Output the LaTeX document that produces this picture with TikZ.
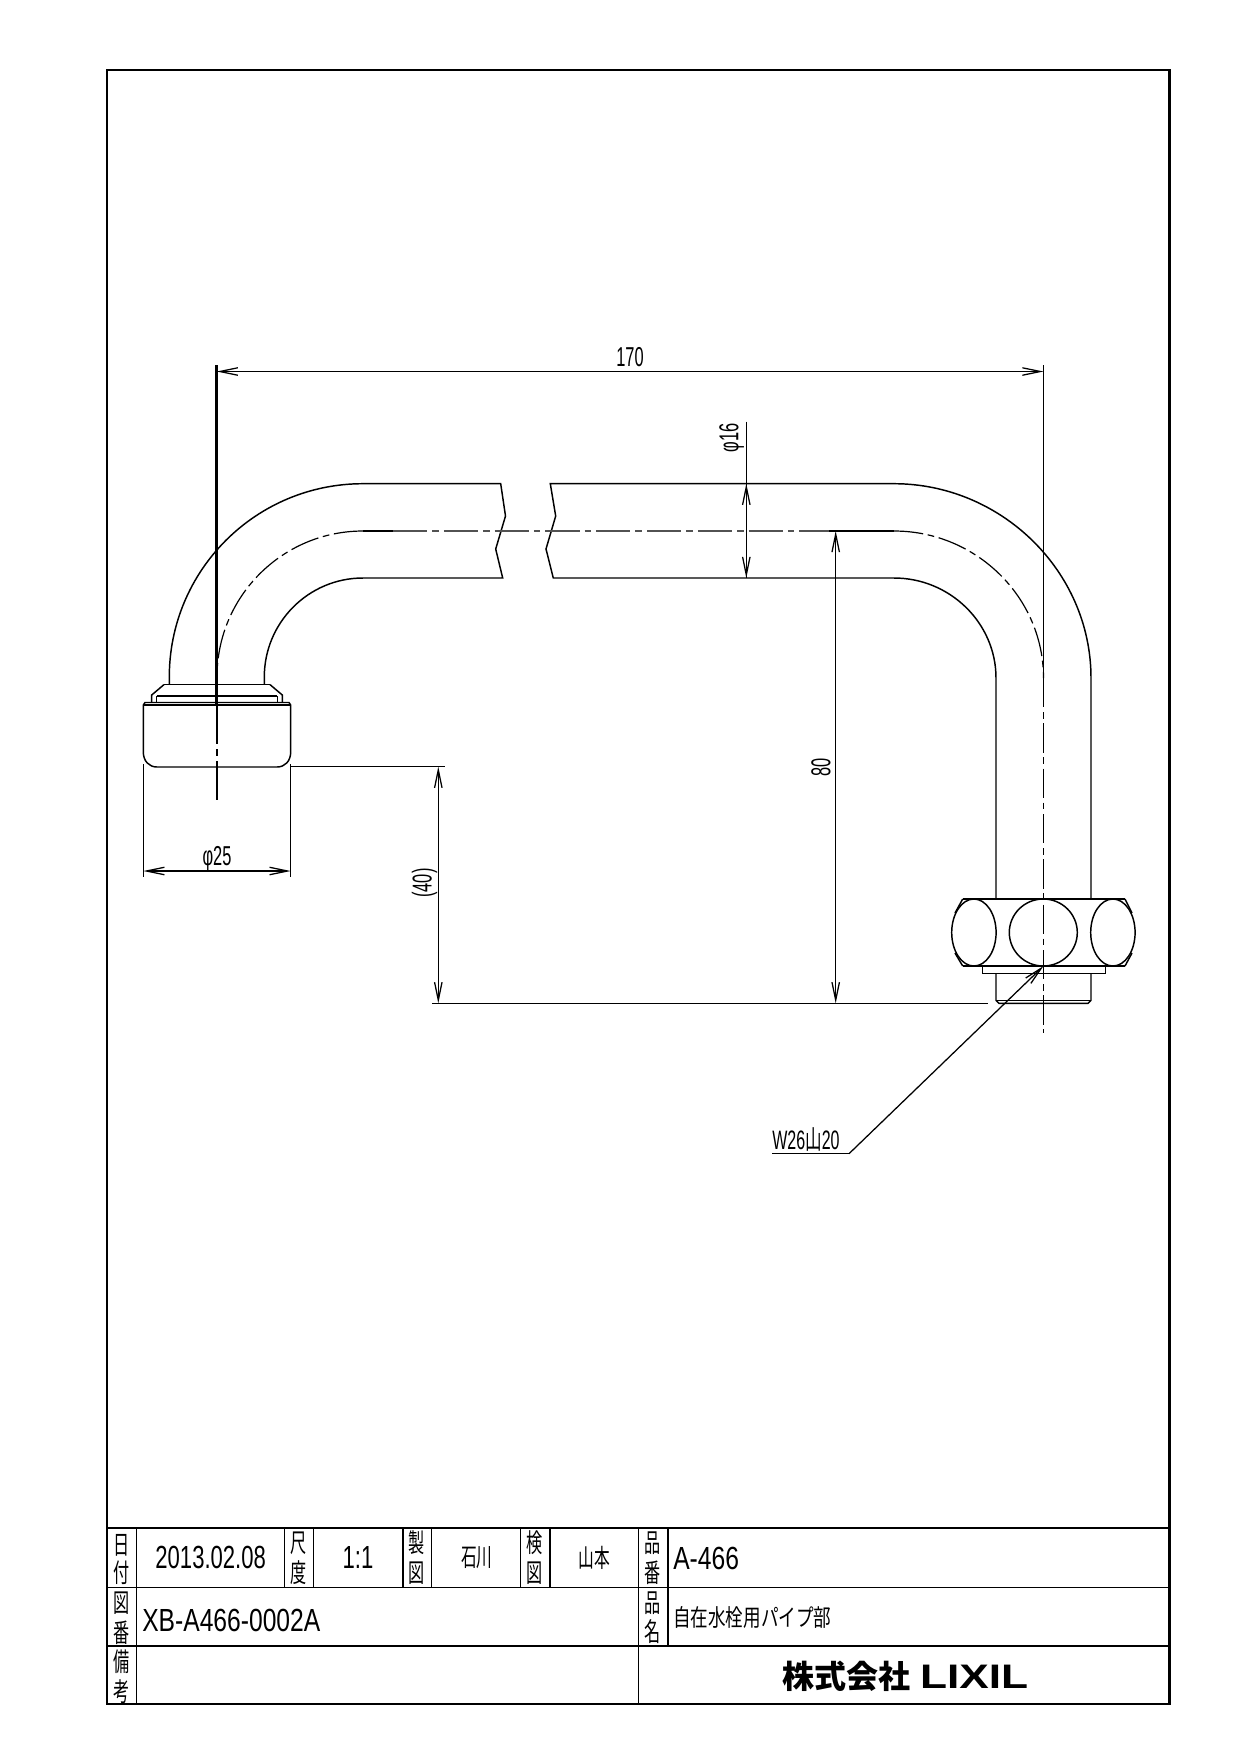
\documentclass[tikz,border=0pt]{standalone}
\usepackage{fontspec}
\usetikzlibrary{arrows.meta,calc}
\newfontfamily\cadA[FakeStretch=0.6]{Liberation Sans}
\newfontfamily\cadB[FakeStretch=0.69]{Liberation Sans}
\newfontfamily\cadC[FakeStretch=0.77]{Liberation Sans}
\newfontfamily\jpN[FakeStretch=0.62]{Noto Sans CJK JP}
\newfontfamily\jpT[FakeStretch=0.74]{Noto Sans CJK JP}
\newfontfamily\jpB{Noto Sans CJK JP}
\newfontfamily\lixil[FakeStretch=1.3]{Liberation Sans}
\newcommand{\fs}[1]{\fontsize{#1}{#1}\selectfont}
\tikzset{
  obj/.style={line width=1.1pt,black},
  thin line/.style={line width=0.95pt,black},
  frameline/.style={line width=2pt,black},
  cellline/.style={line width=1pt,black},
  dimline/.style={line width=0.95pt,black,
    <->,>={Straight Barb[length=13.5pt,width=5.6pt]}},
  tipline/.style={line width=0.95pt,black,
    ->,>={Straight Barb[length=13.5pt,width=5.6pt]}},
  chain/.style={line width=0.9pt,black,dash pattern=on 22pt off 3.5pt on 5pt off 3.5pt},
  graychain/.style={line width=1.4pt,black!68,dash pattern=on 25.7pt off 3.7pt on 5pt off 3.7pt},
  dimtext/.style={inner sep=0pt,font=\cadA\fs{20.5}},
  cjkcell/.style={inner sep=0pt,font=\jpN\fs{19.5}},
}
\begin{document}
\begin{tikzpicture}[x=0.75pt,y=-0.75pt]
\useasboundingbox (0,0) rectangle (1240,1754);
% key points
\coordinate (dimL) at (216.7,371.5);
\coordinate (dimR) at (1043.5,371.5);
\coordinate (d25L) at (143.3,871);
\coordinate (d25R) at (290.7,871);
\coordinate (d40T) at (438.3,766.7);
\coordinate (d40B) at (438.3,1003.3);
\coordinate (d80T) at (835.7,531);
\coordinate (d80B) at (835.7,1003.3);
\coordinate (d16T) at (746.3,483.7);
\coordinate (d16B) at (746.3,578);
\coordinate (d16E) at (746.3,421.7);
\coordinate (ldA) at (1043.5,966);
\coordinate (ldB) at (849,1153.7);
\coordinate (ldC) at (772,1153.7);
% frame
\draw[frameline] (107,70) rectangle (1169.8,1704);
\draw[frameline] (107,1528) -- (1169.8,1528);
\draw[cellline] (107,1587.3) -- (1169.8,1587.3);
\draw[cellline] (107,1646) -- (1169.8,1646);
\draw[cellline] (136.8,1528) -- (136.8,1704);
\draw[cellline] (638.3,1528) -- (638.3,1704);
\draw[cellline] (284.6,1528) -- (284.6,1587.3);
\draw[cellline] (313.6,1528) -- (313.6,1587.3);
\draw[cellline] (402.9,1528) -- (402.9,1587.3);
\draw[cellline] (431.4,1528) -- (431.4,1587.3);
\draw[cellline] (520.7,1528) -- (520.7,1587.3);
\draw[line width=1.5pt] (550,1528) -- (550,1587.3);
\draw[line width=1.5pt] (667.6,1528) -- (667.6,1646);
% title labels
\node[cjkcell] (t1) at (122,1545) {日};
\node[cjkcell] (t2) at (122,1573) {付};
\node[cjkcell] (t3) at (299,1543) {尺};
\node[cjkcell] (t4) at (299,1573) {度};
\node[cjkcell] (t5) at (417,1543) {製};
\node[cjkcell] (t6) at (417,1573) {図};
\node[cjkcell] (t7) at (535,1543) {検};
\node[cjkcell] (t8) at (535,1573) {図};
\node[cjkcell] (t9) at (653,1543) {品};
\node[cjkcell] (t10) at (653,1573) {番};
\node[cjkcell] (t11) at (122,1603) {図};
\node[cjkcell] (t12) at (122,1633) {番};
\node[cjkcell] (t13) at (653,1603) {品};
\node[cjkcell] (t14) at (653,1632) {名};
\node[cjkcell] (t15) at (122,1662) {備};
\node[cjkcell] (t16) at (122,1692) {考};
\node[inner sep=0pt,font=\cadB\fs{24}] (date) at (210.7,1557.5) {2013.02.08};
\node[inner sep=0pt,font=\cadB\fs{24}] (scale) at (358,1557.5) {1:1};
\node[inner sep=0pt,font=\jpN\fs{19}] (mk) at (476.8,1558) {石川};
\node[inner sep=0pt,font=\jpN\fs{19}] (ck) at (594.6,1558) {山本};
\node[inner sep=0pt,anchor=west,font=\cadC\fs{24}] (code) at (142,1620) {XB-A466-0002A};
\node[inner sep=0pt,anchor=west,font=\cadC\fs{24}] (part) at (673,1558) {A-466};
\node[inner sep=0pt,anchor=west,font=\jpT\fs{17.8}] (name) at (673,1617) {自在水栓用パイプ部};
\node[inner sep=0pt,font=\fs{24}] (co) at (905.5,1676) {{\jpB\bfseries 株式会社}\hspace{7pt}{\lixil\bfseries\fs{25.5}LIXIL}};
% pipe left part
\draw[obj] (169.3,684.6) -- (169.3,677) .. controls (169.3,570) and (256,483.7) .. (363,483.7) -- (500.7,483.7) -- (505.5,516) -- (495.7,549) -- (502.7,578) -- (363,578) .. controls (308.5,578) and (264.3,622.5) .. (264.3,677) -- (264.3,684.6);
% pipe right part
\draw[obj] (996,899) -- (996,678) .. controls (996,623) and (950,578) .. (894,578) -- (553.3,578) -- (546,549) -- (555.7,516) -- (550.3,483.7) -- (894,483.7) .. controls (1001,483.7) and (1091,571) .. (1091,678) -- (1091,899);
% centre lines
\draw[line width=1.4pt] (363,531) -- (393,531);
\draw[line width=1.4pt] (829,531) -- (894,531);
\draw[graychain] (393,531) -- (829,531);
\draw[chain] (363,531) .. controls (282.4,531) and (217,596.4) .. (217,677);
\draw[chain] (894,531) .. controls (976,531) and (1043.5,597) .. (1043.5,678);
\draw[line width=1.9pt] (216.7,365) -- (216.7,705);
\draw[line width=1.5pt,dash pattern=on 29pt off 4pt on 5pt off 4pt] (216.7,705) -- (216.7,800);
\draw[thin line] (1043.5,365) -- (1043.5,678);
\draw[chain] (1043.5,678) -- (1043.5,1032.7);
% left nut and collar
\draw[obj] (164,684.6) -- (270,684.6);
\draw[obj] (164,684.6) -- (151.7,695) -- (151.7,702.5);
\draw[obj] (270,684.6) -- (282.3,695) -- (282.3,702.5);
\draw[obj] (156.7,696) -- (277.3,696);
\draw[obj] (156.7,696) -- (156.7,702.5);
\draw[obj] (277.3,696) -- (277.3,702.5);
\draw[obj] (143.3,705) -- (145,702.5) -- (289,702.5) -- (290.7,705) -- (290.7,752) .. controls (290.7,761) and (285,767) .. (277,767) -- (157,767) .. controls (149,767) and (143.3,761) .. (143.3,752) -- cycle;
\draw[obj] (143.3,705) -- (290.7,705);
% right hex nut
\draw[obj] (962.7,899) -- (1125,899);
\draw[obj] (962.7,966) -- (1125,966);
\draw[obj] (962.7,899) -- (955,913);
\draw[obj] (955,953) -- (962.7,966);
\draw[obj] (1125,899) -- (1132,913);
\draw[obj] (1132,953) -- (1125,966);
\draw[obj] (973.9,932.5) ellipse [x radius=22.2,y radius=33.5];
\draw[obj] (1043.3,932.5) ellipse [x radius=34,y radius=33.5];
\draw[obj] (1112.9,932.5) ellipse [x radius=22.2,y radius=33.5];
\draw[obj] (982.3,966) rectangle (1105.7,973.3);
\draw[obj] (996,973.3) -- (996,1000.3) -- (999,1003.3) -- (1088,1003.3) -- (1091,1000.3) -- (1091,973.3);
\draw[obj] (996,1000.3) -- (1091,1000.3);
% extension lines
\draw[thin line] (143.3,764) -- (143.3,877);
\draw[thin line] (290.7,764) -- (290.7,877);
\draw[thin line] (290.7,766.7) -- (445,766.7);
\draw[thin line] (432,1003.3) -- (987.7,1003.3);
% dimensions
\draw[dimline] (dimL) -- (dimR);
\draw[dimline] (d25L) -- (d25R);
\draw[dimline] (d40T) -- (d40B);
\draw[dimline] (d80T) -- (d80B);
\draw[thin line] (d16E) -- (d16B);
\draw[tipline] ($(d16T)+(0,20)$) -- (d16T);
\draw[tipline] ($(d16B)+(0,-20)$) -- (d16B);
\draw[tipline] (ldB) -- (ldA);
\draw[thin line] (ldB) -- (ldC);
% dimension texts
\node[dimtext] (l170) at (630,356.7) {170};
\node[dimtext] (l25) at (217,859) {φ25};
\node[dimtext,rotate=90] (l16) at (731.7,438) {φ16};
\node[dimtext,rotate=90] (l40) at (424.6,883) {(40)};
\node[dimtext,rotate=90] (l80) at (821,767) {80};
\node[inner sep=0pt,font=\cadA\fs{20}] (lw) at (806,1139) {W26{\jpN 山}20};
\end{tikzpicture}
\end{document}
